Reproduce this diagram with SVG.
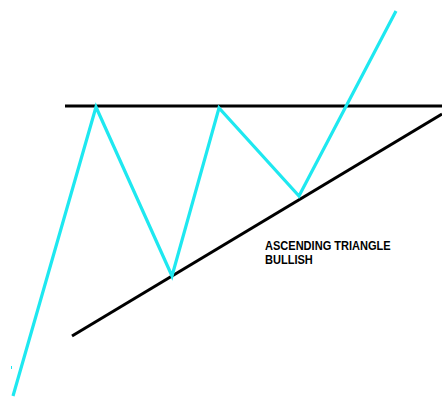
<svg xmlns="http://www.w3.org/2000/svg" width="442" height="399" viewBox="0 0 442 399">
<style>
.blk{stroke:#000;stroke-width:3;fill:none}
.cy{stroke:#1ee8f0;stroke-width:3.2;fill:none;stroke-linejoin:miter}
.t{font-family:"Liberation Sans",Arial,sans-serif;font-weight:bold;font-size:13px;fill:#000}
</style>
<rect width="442" height="399" fill="#fff"/>
<g id="connectors">
<line class="blk" x1="65" y1="106" x2="442" y2="106"/>
<line class="blk" x1="72" y1="336" x2="442" y2="114"/>
<polyline class="cy" points="13,396 96,107 172,276 219,108 299,196 396,11"/>
<rect x="11" y="366" width="1" height="3" fill="#1ee8f0"/>
</g>
<g id="label" transform="translate(265,0) scale(0.85,1)">
<text class="t" x="0" y="250">ASCENDING TRIANGLE</text>
<text class="t" x="0" y="264.5">BULLISH</text>
</g>
</svg>
